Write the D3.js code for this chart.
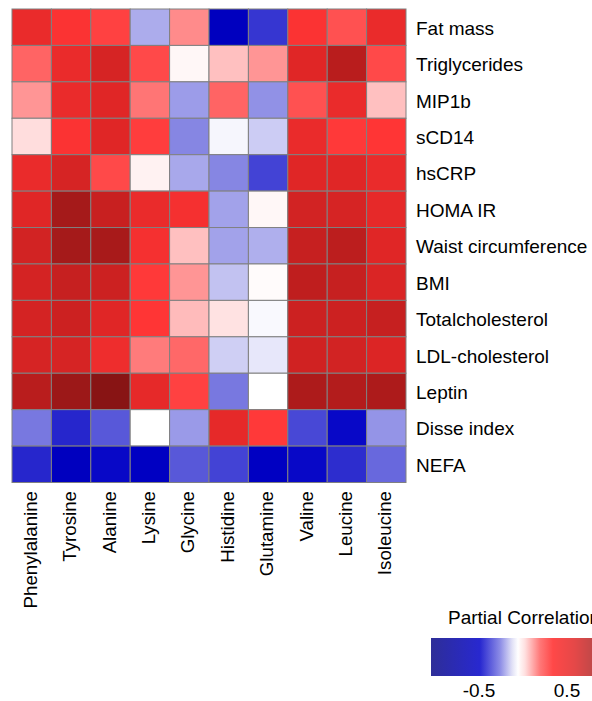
<!DOCTYPE html>
<html>
<head>
<meta charset="utf-8">
<script src="https://cdn.jsdelivr.net/npm/d3@7/dist/d3.min.js"></script>
<style>
html,body{margin:0;padding:0;background:#fff;overflow:hidden;}
text{font-family:"Liberation Sans",Arial,sans-serif;fill:#000;}
</style>
</head>
<body>
<svg id="chart" width="592" height="701"></svg>
<script>
const columns = ["Phenylalanine","Tyrosine","Alanine","Lysine","Glycine","Histidine","Glutamine","Valine","Leucine","Isoleucine"];
const rows = ["Fat mass","Triglycerides","MIP1b","sCD14","hsCRP","HOMA IR","Waist circumference","BMI","Totalcholesterol","LDL-cholesterol","Leptin","Disse index","NEFA"];

const fatMass        = [0.55, 0.47, 0.42, -0.27, 0.25, -0.95, -0.68, 0.47, 0.38, 0.55];
const triglycerides  = [0.33, 0.55, 0.65, 0.40, 0.02, 0.15, 0.23, 0.60, 0.78, 0.40];
const mip1b          = [0.23, 0.55, 0.60, 0.29, -0.32, 0.33, -0.36, 0.38, 0.55, 0.15];
const sCD14          = [0.08, 0.47, 0.60, 0.43, -0.40, -0.03, -0.17, 0.55, 0.44, 0.45];
const hsCRP          = [0.55, 0.65, 0.40, 0.03, -0.28, -0.40, -0.62, 0.60, 0.60, 0.55];
const homaIR         = [0.60, 0.85, 0.72, 0.55, 0.50, -0.30, 0.02, 0.67, 0.65, 0.57];
const waist          = [0.67, 0.85, 0.84, 0.50, 0.15, -0.30, -0.26, 0.73, 0.77, 0.60];
const bmi            = [0.66, 0.73, 0.70, 0.44, 0.23, -0.20, 0.01, 0.76, 0.73, 0.63];
const totalChol      = [0.66, 0.70, 0.60, 0.45, 0.16, 0.07, -0.02, 0.70, 0.70, 0.73];
const ldlChol        = [0.65, 0.65, 0.53, 0.28, 0.32, -0.16, -0.08, 0.68, 0.67, 0.62];
const leptin         = [0.78, 0.88, 0.95, 0.57, 0.42, -0.45, 0.00, 0.82, 0.80, 0.82];
const disseIndex     = [-0.45, -0.75, -0.55, 0.00, -0.33, 0.57, 0.44, -0.60, -0.87, -0.35];
const nefa           = [-0.75, -0.95, -0.87, -0.93, -0.55, -0.62, -0.93, -0.87, -0.72, -0.50];

const matrix = [fatMass, triglycerides, mip1b, sCD14, hsCRP, homaIR, waist, bmi, totalChol, ldlChol, leptin, disseIndex, nefa];
const legendTicks = [-0.5, 0.5];
const legendTitle = "Partial Correlation";

const svg = d3.select("#chart");

const gridLeft = 12, gridRight = 406, gridTop = 9, gridBottom = 482.5;

const x = d3.scaleBand().domain(columns).range([gridLeft, gridRight]).padding(0);
const y = d3.scaleBand().domain(rows).range([gridTop, gridBottom]).padding(0);

const color = d3.scaleLinear()
  .domain([-1, -0.9, -0.75, -0.6, -0.45, -0.3, -0.15, 0, 0.15, 0.3, 0.45, 0.6, 0.75, 0.9, 1])
  .range(["#0000b8","#0000c6","#2626cc","#4848d6","#7878e0","#a2a2ea","#d2d2f5","#ffffff",
          "#ffc0c0","#ff7070","#ff3535","#e02626","#c21f1f","#961717","#7a1010"])
  .interpolate(d3.interpolateRgb)
  .clamp(true);

const cells = [];
matrix.forEach((arr, ri) => arr.forEach((v, ci) => cells.push({row: rows[ri], col: columns[ci], v})));

svg.append("g").selectAll("rect").data(cells).join("rect")
  .attr("x", d => x(d.col))
  .attr("y", d => y(d.row))
  .attr("width", x.bandwidth())
  .attr("height", y.bandwidth())
  .attr("fill", d => color(d.v))
  .attr("stroke", "#808080")
  .attr("stroke-width", 1);

// Row labels
svg.append("g").selectAll("text").data(rows).join("text")
  .attr("transform", d => `translate(416,${y(d) + y.bandwidth()/2 + 7.5})`)
  .attr("font-size", 19)
  .text(d => d);

// Column labels
svg.append("g").selectAll("text").data(columns).join("text")
  .attr("transform", d => `translate(${x(d) + x.bandwidth()/2 + 5},491) rotate(-90)`)
  .attr("text-anchor", "end")
  .attr("font-size", 18.7)
  .text(d => d);

// Legend
const lgX0 = 431, lgX1 = 614, lgY = 638, lgH = 38;
const defs = svg.append("defs");
const grad = defs.append("linearGradient").attr("id", "lg").attr("x1", "0%").attr("x2", "100%");
const legStops = [
  [431, "#2e2e98"], [452, "#2b2bb0"], [480, "#2828d0"], [500, "#8c8ce6"], [512, "#e0e0f6"],
  [518, "#ffffff"], [525, "#ffe0e0"], [540, "#ff7878"], [553, "#ff4848"], [575, "#e44848"],
  [592, "#c24848"], [614, "#b03838"]
];
legStops.forEach(([px, c]) => grad.append("stop")
  .attr("offset", ((px - lgX0) / (lgX1 - lgX0) * 100) + "%").attr("stop-color", c));
svg.append("rect").attr("x", lgX0).attr("y", lgY).attr("width", lgX1 - lgX0).attr("height", lgH)
  .attr("fill", "url(#lg)");

const lx = d3.scaleLinear().domain([-0.5, 0.5]).range([479, 567]);
svg.append("text").attr("x", 448).attr("y", 624).attr("font-size", 19).text(legendTitle);
svg.append("g").selectAll("text").data(legendTicks).join("text")
  .attr("x", d => lx(d)).attr("y", 697).attr("text-anchor", "middle")
  .attr("font-size", 19).text(d => d);
</script>
</body>
</html>
